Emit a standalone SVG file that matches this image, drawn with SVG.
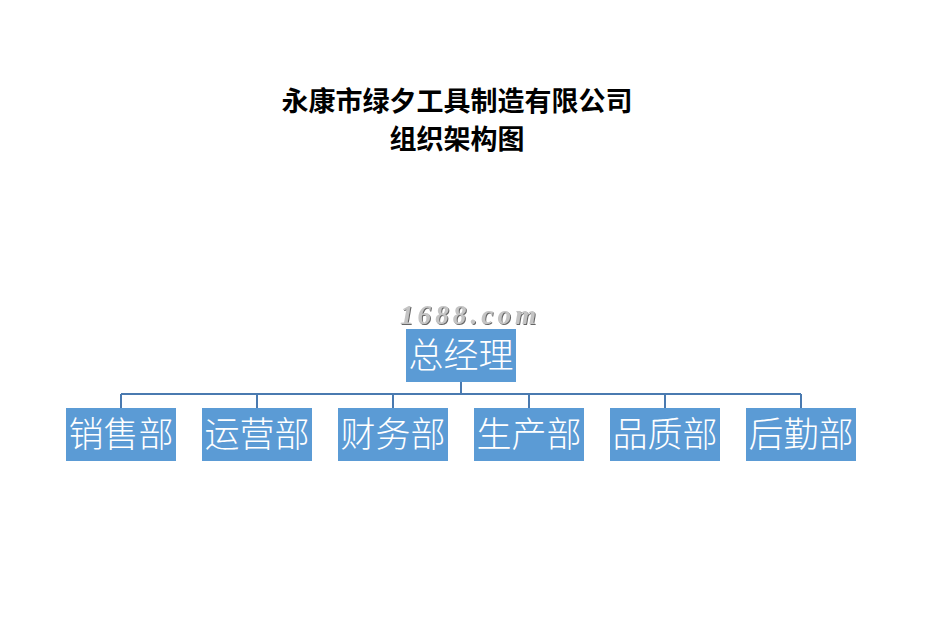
<svg xmlns="http://www.w3.org/2000/svg" width="935" height="637" viewBox="0 0 935 637">
<defs>
<filter id="sh" x="-10%" y="-30%" width="120%" height="160%"><feDropShadow dx="1" dy="1" stdDeviation="0.6" flood-color="#555" flood-opacity="0.9"/></filter>
</defs>
<style>
.title{font-family:"Noto Sans CJK SC","Liberation Sans",sans-serif;font-weight:bold;font-size:27px;fill:#000;text-anchor:middle}
.box{fill:#5b9bd5}
.lbl{font-family:"Noto Sans CJK SC","Liberation Sans",sans-serif;font-weight:300;font-size:35px;fill:#fff;text-anchor:middle}
.conn{stroke:#4a7ab0;stroke-width:2;fill:none}
.wm{font-family:"Liberation Serif",serif;font-weight:bold;font-style:italic;font-size:27px;fill:#c4c4c4}
</style>
<rect width="935" height="637" fill="#fff"/>
<g id="title">
<text class="title" x="457" y="111">永康市绿夕工具制造有限公司</text>
<text class="title" x="457" y="149">组织架构图</text>
</g>
<g id="watermark">
<text class="wm" x="400" y="324" textLength="136" lengthAdjust="spacing" filter="url(#sh)">1688.com</text>
</g>
<g id="connectors">
<path class="conn" d="M461 382V394M121 394H801M121 394V408M257 394V408M393 394V408M529 394V408M665 394V408M801 394V408"/>
</g>
<g id="n0"><rect class="box" x="406" y="329" width="110" height="53"/><text class="lbl" x="461" y="368">总经理</text></g>
<g id="n1"><rect class="box" x="66" y="408" width="110" height="53"/><text class="lbl" x="121" y="447">销售部</text></g>
<g id="n2"><rect class="box" x="202" y="408" width="110" height="53"/><text class="lbl" x="257" y="447">运营部</text></g>
<g id="n3"><rect class="box" x="338" y="408" width="110" height="53"/><text class="lbl" x="393" y="447">财务部</text></g>
<g id="n4"><rect class="box" x="474" y="408" width="110" height="53"/><text class="lbl" x="529" y="447">生产部</text></g>
<g id="n5"><rect class="box" x="610" y="408" width="110" height="53"/><text class="lbl" x="665" y="447">品质部</text></g>
<g id="n6"><rect class="box" x="746" y="408" width="110" height="53"/><text class="lbl" x="801" y="447">后勤部</text></g>
</svg>
